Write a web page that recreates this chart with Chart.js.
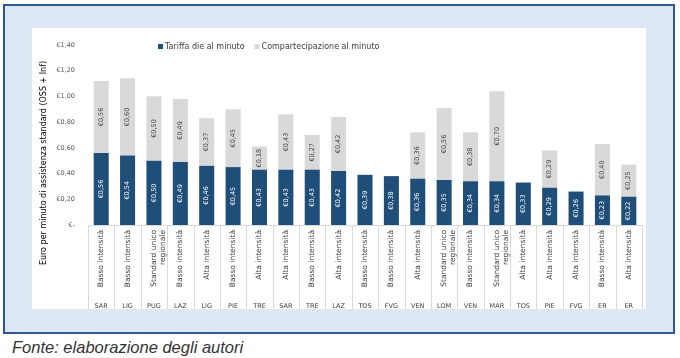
<!DOCTYPE html>
<html lang="it">
<head>
<meta charset="UTF-8">
<title>Tariffa e compartecipazione al minuto</title>
<script src="https://cdn.jsdelivr.net/npm/chart.js@4"></script>
<style>
  body { margin: 0; width: 680px; height: 358px; position: relative; background: #fff; overflow: hidden; }
  .panel { position: absolute; left: 3px; top: 4px; width: 668px; height: 326px; background: #dee8f4; border: 2px solid #2f5597; }
  .box { position: absolute; left: 27px; top: 22px; width: 614px; height: 281px; background: #fff; }
  .fonte { position: absolute; left: 12px; top: 338px; font-family: 'Liberation Sans', Arial, sans-serif; font-style: italic; font-size: 16.5px; color: #333; }
</style>
</head>
<body>
<div class="panel">
  <div class="box"><canvas id="grafico" width="614" height="281"></canvas></div>
</div>
<div class="fonte">Fonte: elaborazione degli autori</div>
<script>
const tipi = ['Basso intensità', 'Basso intensità', ['Standard unico', 'regionale'], 'Basso intensità',
  'Alta intensità', 'Basso intensità', 'Alta intensità', 'Alta intensità', 'Basso intensità',
  'Alta intensità', 'Basso intensità', 'Basso intensità', 'Alta intensità', ['Standard unico', 'regionale'],
  'Basso intensità', ['Standard unico', 'regionale'], 'Alta intensità', 'Alta intensità', 'Alta intensità',
  'Basso intensità', 'Alta intensità'];
const regioni = ['SAR', 'LIG', 'PUG', 'LAZ', 'LIG', 'PIE', 'TRE', 'SAR', 'TRE', 'LAZ', 'TOS',
  'FVG', 'VEN', 'LOM', 'VEN', 'MAR', 'TOS', 'PIE', 'FVG', 'ER', 'ER'];
const tariffa = [0.56, 0.54, 0.50, 0.49, 0.46, 0.45, 0.43, 0.43, 0.43, 0.42, 0.39,
  0.38, 0.36, 0.35, 0.34, 0.34, 0.33, 0.29, 0.26, 0.23, 0.22];
const compartecipazione = [0.56, 0.60, 0.50, 0.49, 0.37, 0.45, 0.18, 0.43, 0.27, 0.42, null,
  null, 0.36, 0.56, 0.38, 0.70, null, 0.29, null, 0.40, 0.25];
const serie = ['Tariffa die al minuto', 'Compartecipazione al minuto'];
const yTitolo = 'Euro per minuto di assistenza standard (OSS + Inf)';

const FONT = "'DejaVu Sans', sans-serif";
const euro = v => v === 0 ? '€-' : '€' + v.toFixed(2).replace('.', ',');

// etichette ruotate dentro le barre
const etichette = {
  id: 'etichette',
  afterDatasetsDraw(chart) {
    const ctx = chart.ctx;
    chart.data.datasets.forEach((ds, i) => {
      chart.getDatasetMeta(i).data.forEach((bar, j) => {
        const v = ds.data[j];
        if (v == null) return;
        const p = bar.getProps(['x', 'y', 'base'], true);
        ctx.save();
        ctx.translate(p.x, (p.y + p.base) / 2);
        ctx.rotate(-Math.PI / 2);
        ctx.font = '6.5px ' + FONT;
        ctx.fillStyle = i === 0 ? '#ffffff' : '#404040';
        ctx.textAlign = 'center';
        ctx.textBaseline = 'middle';
        ctx.fillText(euro(v), 0, 0);
        ctx.restore();
      });
    });
  }
};

// legenda, titolo asse y e separatori delle categorie
const extra = {
  id: 'extra',
  afterDraw(chart) {
    const ctx = chart.ctx;
    const area = chart.chartArea;
    const x = chart.scales.x;
    const n = tipi.length;
    const step = (area.right - area.left) / n;
    ctx.save();
    ctx.strokeStyle = '#d9d9d9';
    ctx.lineWidth = 1;
    for (let i = 0; i <= n; i++) {
      const px = Math.round(x.getPixelForValue(0) - step / 2 + i * step) + 0.5;
      ctx.beginPath();
      ctx.moveTo(px, area.bottom);
      ctx.lineTo(px, chart.height);
      ctx.stroke();
    }

    // legenda
    ctx.font = '8px ' + FONT;
    ctx.textBaseline = 'middle';
    ctx.textAlign = 'left';
    let lx = 126;
    const ly = 18.5;
    chart.data.datasets.forEach(ds => {
      ctx.fillStyle = ds.backgroundColor;
      ctx.fillRect(lx, ly - 2.5, 5, 5);
      ctx.fillStyle = '#404040';
      ctx.fillText(ds.label, lx + 7, ly);
      lx += 7 + ctx.measureText(ds.label).width + 10;
    });

    // titolo asse y
    ctx.translate(12, 135);
    ctx.rotate(-Math.PI / 2);
    ctx.font = '8px ' + FONT;
    ctx.fillStyle = '#000';
    ctx.textAlign = 'center';
    ctx.fillText(yTitolo, 0, 0);
    ctx.restore();
  }
};

new Chart(document.getElementById('grafico'), {
  type: 'bar',
  data: {
    labels: tipi,
    datasets: [
      { label: serie[0], data: tariffa, backgroundColor: '#1f4e79' },
      { label: serie[1], data: compartecipazione, backgroundColor: '#d9d9d9' }
    ]
  },
  options: {
    responsive: false,
    animation: false,
    layout: { padding: { top: 11, right: 4, left: 0, bottom: 0 } },
    datasets: { bar: { barPercentage: 0.57, categoryPercentage: 1 } },
    plugins: { legend: { display: false }, tooltip: { enabled: false } },
    scales: {
      x: {
        stacked: true,
        grid: { display: false, drawTicks: false },
        border: { display: true, color: '#d9d9d9' },
        ticks: { autoSkip: false, minRotation: 90, maxRotation: 90, padding: 5, color: '#404040', font: { family: FONT, size: 7.5 } },
        afterFit: s => { s.height = 70; }
      },
      x2: {
        type: 'category',
        labels: regioni,
        position: 'bottom',
        offset: true,
        weight: 1,
        grid: { display: false, drawTicks: false },
        border: { display: false },
        ticks: { autoSkip: false, maxRotation: 0, padding: 7, color: '#404040', font: { family: FONT, size: 6.5 } },
        afterFit: s => { s.height = 14; }
      },
      y: {
        stacked: true,
        min: 0,
        max: 1.4,
        grid: { display: false, drawTicks: false },
        border: { display: false },
        ticks: { stepSize: 0.2, padding: 13, color: '#595959', font: { family: FONT, size: 6.5 }, callback: v => euro(v) },
        afterFit: s => { s.width = 56; }
      }
    }
  },
  plugins: [etichette, extra]
});
</script>
</body>
</html>
